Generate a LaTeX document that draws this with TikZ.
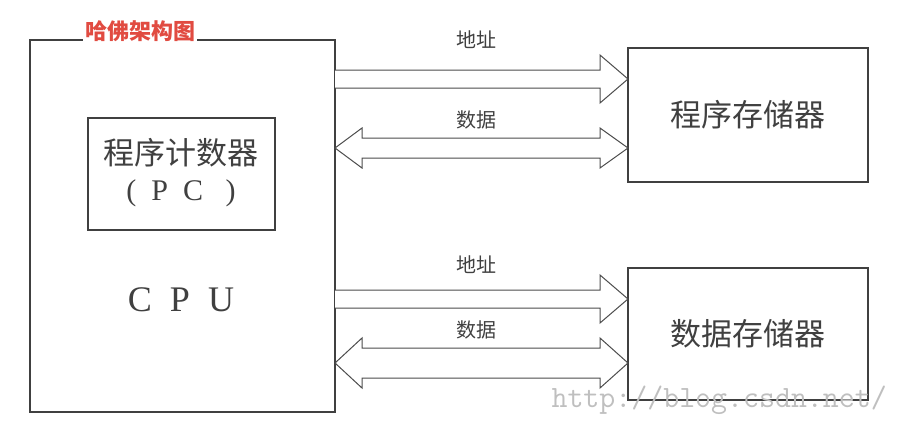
\documentclass[tikz,border=0pt]{standalone}
\usepackage{fontspec}
\newfontfamily\cjk{Noto Sans CJK SC}
\setmainfont{Liberation Serif}
\begin{document}
\begin{tikzpicture}[x=1pt,y=-1pt,
  box/.style={draw=black!75,line width=1.1pt,fill=white},
  arr/.style={draw=black!70,line width=1pt,fill=white,line join=miter},
  lbl/.style={font=\cjk\fontsize{20}{20}\selectfont,text=black!75},
  big/.style={font=\cjk\fontsize{31}{31}\selectfont,text=black!75}]
\useasboundingbox (0,0) rectangle (904,434);
\draw[box] (30,40) rectangle (335,412);
\node[fill=white,inner sep=2pt,font=\cjk\bfseries\fontsize{22}{22}\selectfont,text={rgb,255:red,225;green,75;blue,65}] (title) at (140,31) {哈佛架构图};
\draw[box] (88,118) rectangle (275,230);
\node[big] (pc) at (181,153) {程序计数器};
\node[font=\fontsize{30}{30}\selectfont,text=black!75] (pc2) at (181,193) {(\ \ P \ C \ \ )};
\node[font=\fontsize{36}{36}\selectfont,text=black!75] (cpu) at (181,300) {C \ P \ U};
\draw[box] (628,48) rectangle (868,182);
\node[big] (pm) at (748,115) {程序存储器};
\draw[box] (628,268) rectangle (868,400);
\node[big] (dm) at (748,334) {数据存储器};
% arrows
\draw[arr] (335,70) -- (600,70) -- (600,55) -- (628,79) -- (600,103) -- (600,88) -- (335,88);
\draw[arr] (335,148) -- (362,128) -- (362,138) -- (600,138) -- (600,128) -- (628,148) -- (600,168) -- (600,158) -- (362,158) -- (362,168) -- cycle;
\draw[arr] (335,290) -- (600,290) -- (600,275) -- (628,299) -- (600,323) -- (600,308) -- (335,308);
\draw[arr] (335,363) -- (362,338) -- (362,348) -- (600,348) -- (600,338) -- (628,363) -- (600,388) -- (600,378) -- (362,378) -- (362,388) -- cycle;
\node[lbl] (a1) at (476,40) {地址};
\node[lbl] (d1) at (476,120) {数据};
\node[lbl] (a2) at (476,265) {地址};
\node[lbl] (d2) at (476,330) {数据};
\node[font=\ttfamily\fontsize{31}{31}\selectfont,text=black!25,anchor=west] (wm) at (548,400) {http://blog.csdn.net/};
\end{tikzpicture}
\end{document}
